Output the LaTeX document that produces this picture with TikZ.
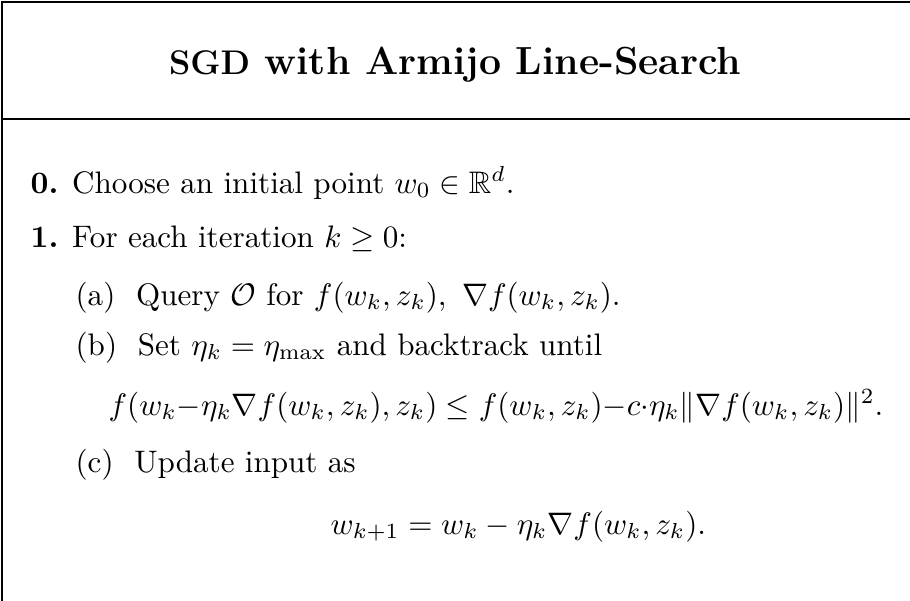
\documentclass[tikz,border=0pt]{standalone}
\usepackage{amsmath,amssymb}
\usetikzlibrary{positioning}

\begin{document}
\begin{tikzpicture}[
  x=0.3215pt,y=-0.3215pt,
  frame/.style={draw,line width=0.7pt},
  title/.style={anchor=base,inner sep=0pt,font=\fontsize{12.6}{15}\selectfont\bfseries},
  txt/.style={anchor=base west,inner sep=0pt}
]
\clip (0,0) rectangle (910,600);
\useasboundingbox (0,0) rectangle (910,600);
% box runs off the page on the right and bottom
\draw[frame] (2,2) rectangle (960,660);
\draw[frame] (2,119) -- (960,119);

\node[title] (head) at (455,75) {{\fontsize{11}{13}\selectfont SGD} with Armijo Line-Search};

\node[txt] (s0) at (30,193) {\textbf{0.} Choose an initial point $w_0\in\mathbb{R}^d$.};
\node[txt] (s1) at (30,247) {\textbf{1.} For each iteration $k\ge 0$:};
\node[txt] (sa) at (75,305) {(a)\ \ Query $\mathcal{O}$ for $f(w_k,z_k),\ \nabla f(w_k,z_k)$.};
\node[txt] (sb) at (75,355) {(b)\ \ Set $\eta_k=\eta_{\max}$ and backtrack until};
\node[txt] (armijo) at (108,415) {$f(w_k{-}\eta_k\nabla f(w_k,z_k),z_k)\le f(w_k,z_k){-}c{\cdot}\eta_k\|\nabla f(w_k,z_k)\|^2$.};
\node[txt] (sc) at (75,472) {(c)\ \ Update input as};
\node[txt] (upd) at (330,534) {$w_{k+1}=w_k-\eta_k\nabla f(w_k,z_k)$.};
\end{tikzpicture}
\end{document}
